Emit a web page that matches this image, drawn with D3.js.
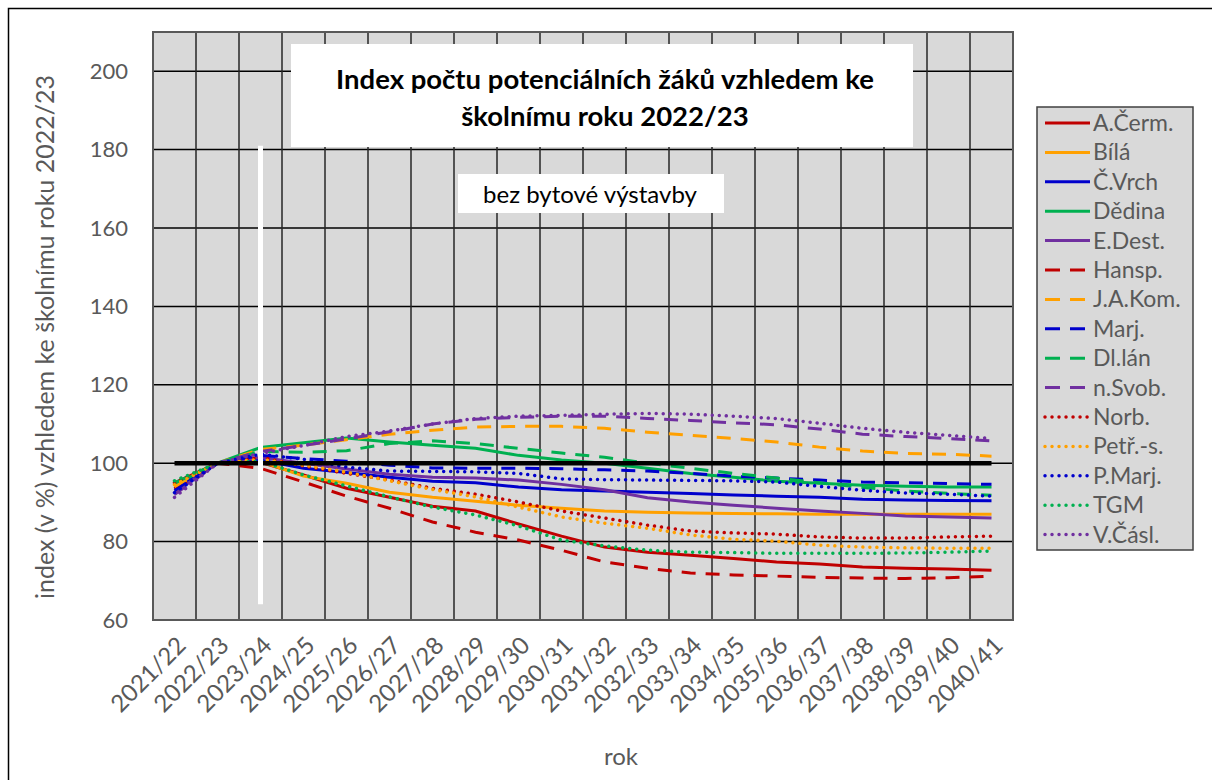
<!DOCTYPE html>
<html>
<head>
<meta charset="utf-8">
<script src="https://cdn.jsdelivr.net/npm/d3@7"></script>
<style>
body { margin: 0; background: #fff; }
text { font-family: Lato, "Open Sans", sans-serif; }
</style>
</head>
<body>
<div id="chart"></div>
<script>
// school years on the x axis
var categories = ['2021/22', '2022/23', '2023/24', '2024/25', '2025/26', '2026/27', '2027/28',
	'2028/29', '2029/30', '2030/31', '2031/32', '2032/33', '2033/34', '2034/35', '2035/36',
	'2036/37', '2037/38', '2038/39', '2039/40', '2040/41']

var yTicks = [60, 80, 100, 120, 140, 160, 180, 200]

// index values per school (2022/23 = 100)
var aCerm  = [95.0, 100, 100.2, 97.0, 93.6, 91.3, 89.0, 87.8, 84.5, 81.4, 78.6, 77.3, 76.5, 75.7, 74.8, 74.3, 73.5, 73.2, 73.0, 72.7]
var bila   = [94.0, 100, 100.5, 96.7, 94.9, 92.6, 91.3, 90.3, 89.3, 88.5, 87.8, 87.5, 87.3, 87.2, 87.1, 87.0, 87.0, 87.0, 87.0, 87.0]
var cVrch  = [93.5, 100, 100.8, 98.7, 97.6, 96.4, 95.4, 95.0, 93.9, 93.2, 92.9, 92.6, 92.3, 91.9, 91.6, 91.3, 90.8, 90.6, 90.5, 90.4]
var dedina = [94.5, 100, 104.0, 105.2, 106.4, 105.4, 104.6, 103.8, 102.0, 100.8, 100.0, 98.7, 97.4, 96.4, 95.4, 94.9, 94.4, 94.1, 93.9, 93.9]
var eDest  = [92.5, 100, 101.5, 100.0, 98.5, 97.2, 96.4, 96.2, 95.7, 94.6, 93.2, 91.2, 90.1, 89.3, 88.5, 87.8, 87.2, 86.5, 86.3, 86.0]
var hansp  = [93.5, 100, 98.7, 95.2, 91.6, 88.5, 85.0, 82.4, 80.4, 77.8, 74.8, 73.2, 72.0, 71.5, 71.2, 70.9, 70.7, 70.6, 70.8, 71.2]
var jaKom  = [94.0, 100, 103.5, 104.6, 106.0, 107.4, 108.4, 109.2, 109.4, 109.4, 108.9, 107.9, 107.1, 106.3, 105.4, 104.1, 103.1, 102.5, 102.3, 101.8]
var marj   = [93.0, 100, 102.0, 101.2, 100.5, 99.5, 98.8, 98.7, 98.7, 98.6, 98.3, 98.0, 97.4, 96.7, 96.2, 95.7, 95.2, 95.0, 94.8, 94.6]
var dlLan  = [95.0, 100, 103.0, 102.8, 103.2, 105.0, 105.7, 105.0, 103.8, 102.6, 101.5, 100.0, 98.7, 97.4, 96.2, 95.0, 93.8, 92.9, 92.3, 91.8]
var nSvob  = [92.0, 100, 103.0, 104.5, 106.2, 108.0, 110.0, 111.2, 111.7, 112.0, 112.0, 111.4, 110.9, 110.3, 109.8, 108.7, 107.4, 106.8, 106.3, 105.7]
var norb   = [95.0, 100, 101.5, 99.3, 97.4, 95.7, 93.6, 92.1, 90.1, 87.8, 86.0, 84.2, 82.7, 82.2, 81.9, 81.2, 80.9, 80.9, 81.2, 81.4]
var petrS  = [94.5, 100, 101.0, 99.5, 97.7, 95.5, 93.3, 91.4, 88.8, 86.3, 84.7, 83.4, 81.7, 80.6, 80.1, 79.1, 78.6, 78.4, 78.3, 78.3]
var pMarj  = [92.5, 100, 102.3, 101.0, 99.0, 98.0, 97.9, 97.8, 97.4, 96.0, 95.8, 95.7, 95.6, 95.5, 95.2, 94.1, 93.1, 92.4, 92.1, 91.6]
var tgm    = [95.5, 100, 100.5, 97.0, 94.2, 91.4, 88.8, 86.8, 84.0, 80.4, 78.9, 77.8, 77.3, 77.2, 77.0, 77.0, 77.0, 77.1, 77.3, 77.6]
var vCasl  = [91.3, 100, 102.5, 104.5, 106.8, 108.2, 110.0, 111.4, 112.0, 112.2, 112.5, 112.7, 112.5, 112.0, 111.4, 110.2, 108.9, 107.9, 107.1, 106.3]

// reference line at 100 and the white marker at 2023/24
var baseLine = categories.map(function() { return 100 })
var markerYear = '2023/24'
var markerRange = [64, 181]

var seriesNames = ['A.Čerm.', 'Bílá', 'Č.Vrch', 'Dědina', 'E.Dest.', 'Hansp.', 'J.A.Kom.', 'Marj.',
	'Dl.lán', 'n.Svob.', 'Norb.', 'Petř.-s.', 'P.Marj.', 'TGM', 'V.Čásl.']
var seriesValues = [aCerm, bila, cVrch, dedina, eDest, hansp, jaKom, marj, dlLan, nSvob, norb, petrS, pMarj, tgm, vCasl]

var titleLines = ['Index počtu potenciálních žáků vzhledem ke', 'školnímu roku 2022/23']
var subTitle = 'bez bytové výstavby'
var yTitle = 'index (v %) vzhledem ke školnímu roku 2022/23'
var xTitle = 'rok'

// styles: 5 colours, then solid / dashed / dotted per group of five
var palette = ['#c00000', '#ffa000', '#0000cc', '#00b050', '#7030a0']
var dashes = [null, '14,10', '0.01,7']
function styleOf(i) {
	return { color: palette[i % 5], dash: dashes[Math.floor(i / 5)], dotted: i >= 10 }
}

var width = 1212, height = 780
var plot = {left: 153, right: 1013, top: 32, bottom: 620}
var labelColor = '#595959'

var svg = d3.select('#chart')
	.append('svg')
	.attr('width', width)
	.attr('height', height)

// chart border
svg.append('rect')
	.attr('x', 8.5).attr('y', 8.5)
	.attr('width', width).attr('height', height)
	.attr('fill', '#fff')
	.attr('stroke', '#000')
	.attr('stroke-width', 1.5)

var x = d3.scaleBand()
	.domain(categories)
	.range([plot.left, plot.right])
	.paddingInner(0).paddingOuter(0)

var y = d3.scaleLinear()
	.domain([60, 210])
	.range([plot.bottom, plot.top])

var cx = function(i) { return x(categories[i]) + x.bandwidth() / 2 }

// plot background
svg.append('rect')
	.attr('x', plot.left).attr('y', plot.top)
	.attr('width', plot.right - plot.left).attr('height', plot.bottom - plot.top)
	.attr('fill', '#d9d9d9')

// horizontal gridlines
svg.append('g')
	.selectAll('line')
	.data(yTicks.slice(1))
	.enter()
	.append('line')
		.attr('x1', plot.left).attr('x2', plot.right)
		.attr('y1', function(d) { return y(d) }).attr('y2', function(d) { return y(d) })
		.attr('stroke', '#000')
		.attr('stroke-width', 1.5)

// vertical gridlines between categories
svg.append('g')
	.selectAll('line')
	.data(categories.slice(1))
	.enter()
	.append('line')
		.attr('x1', function(d) { return x(d) }).attr('x2', function(d) { return x(d) })
		.attr('y1', plot.top).attr('y2', plot.bottom)
		.attr('stroke', '#262626')
		.attr('stroke-width', 1.5)

// plot border
svg.append('rect')
	.attr('x', plot.left).attr('y', plot.top)
	.attr('width', plot.right - plot.left).attr('height', plot.bottom - plot.top)
	.attr('fill', 'none')
	.attr('stroke', '#595959')
	.attr('stroke-width', 2)

// y axis labels
svg.append('g')
	.attr('transform', 'translate(' + plot.left + ',0)')
	.call(d3.axisLeft(y).tickValues(yTicks).tickSize(0).tickPadding(25))
	.call(function(g) { g.select('.domain').remove() })
	.selectAll('text')
		.attr('fill', labelColor)
		.style('font-size', '22px')
		.style('font-family', 'Lato, sans-serif')

// x axis labels, rotated
svg.append('g')
	.selectAll('text')
	.data(categories)
	.enter()
	.append('text')
		.attr('transform', function(d, i) { return 'translate(' + (cx(i) + 7) + ',' + 641 + ') rotate(-45)' })
		.attr('text-anchor', 'end')
		.attr('dy', '0.35em')
		.attr('fill', labelColor)
		.style('font-size', '24px')
		.text(function(d) { return d })

// axis titles
svg.append('text')
	.attr('transform', 'translate(54,337) rotate(-90)')
	.attr('text-anchor', 'middle')
	.attr('fill', labelColor)
	.style('font-size', '25px')
	.text(yTitle)

svg.append('text')
	.attr('x', 621).attr('y', 765)
	.attr('text-anchor', 'middle')
	.attr('fill', labelColor)
	.style('font-size', '24px')
	.text(xTitle)

// title box
svg.append('rect')
	.attr('x', 291).attr('y', 44)
	.attr('width', 622).attr('height', 103)
	.attr('fill', '#fff')
svg.append('g')
	.selectAll('text')
	.data(titleLines)
	.enter()
	.append('text')
		.attr('x', 605)
		.attr('y', function(d, i) { return 89 + i * 37 })
		.attr('text-anchor', 'middle')
		.attr('fill', '#000')
		.style('font-size', '27.5px')
		.style('font-weight', 'bold')
		.text(function(d) { return d })

// subtitle box
svg.append('rect')
	.attr('x', 458).attr('y', 174)
	.attr('width', 266).attr('height', 39)
	.attr('fill', '#fff')
svg.append('text')
	.attr('x', 590).attr('y', 203)
	.attr('text-anchor', 'middle')
	.attr('fill', '#000')
	.style('font-size', '24px')
	.text(subTitle)

// data lines
var line = d3.line()
	.x(function(d, i) { return cx(i) })
	.y(function(d) { return y(d) })

seriesValues.forEach(function(vals, i) {
	var st = styleOf(i)
	svg.append('path')
		.datum(vals)
		.attr('d', line)
		.attr('fill', 'none')
		.attr('stroke', st.color)
		.attr('stroke-width', st.dotted ? 3.5 : 3)
		.attr('stroke-linecap', st.dotted ? 'round' : 'butt')
		.attr('stroke-dasharray', st.dash)
})

// 100 line
svg.append('path')
	.datum(baseLine)
	.attr('d', line)
	.attr('fill', 'none')
	.attr('stroke', '#000')
	.attr('stroke-width', 4.5)

// white marker at 2023/24
svg.append('line')
	.attr('x1', x(markerYear) + x.bandwidth() / 2).attr('x2', x(markerYear) + x.bandwidth() / 2)
	.attr('y1', y(markerRange[1])).attr('y2', y(markerRange[0]))
	.attr('stroke', '#fff')
	.attr('stroke-width', 5)

// legend
var legend = svg.append('g').attr('transform', 'translate(1037,107)')
legend.append('rect')
	.attr('width', 156).attr('height', 443)
	.attr('fill', '#d9d9d9')
	.attr('stroke', '#404040')
	.attr('stroke-width', 1.5)

var item = legend.selectAll('.item')
	.data(seriesNames)
	.enter()
	.append('g')
		.attr('class', 'item')
		.attr('transform', function(d, i) { return 'translate(0,' + (16 + i * 29.4) + ')' })

item.append('line')
	.attr('x1', 8).attr('x2', 53)
	.attr('stroke', function(d, i) { return styleOf(i).color })
	.attr('stroke-width', function(d, i) { return styleOf(i).dotted ? 3.5 : 3 })
	.attr('stroke-linecap', function(d, i) { return styleOf(i).dotted ? 'round' : 'butt' })
	.attr('stroke-dasharray', function(d, i) { return styleOf(i).dotted ? styleOf(i).dash : (styleOf(i).dash ? '15,10' : null) })

item.append('text')
	.attr('x', 56)
	.attr('dy', '0.35em')
	.attr('fill', labelColor)
	.style('font-size', '23px')
	.text(function(d) { return d })
</script>
</body>
</html>
